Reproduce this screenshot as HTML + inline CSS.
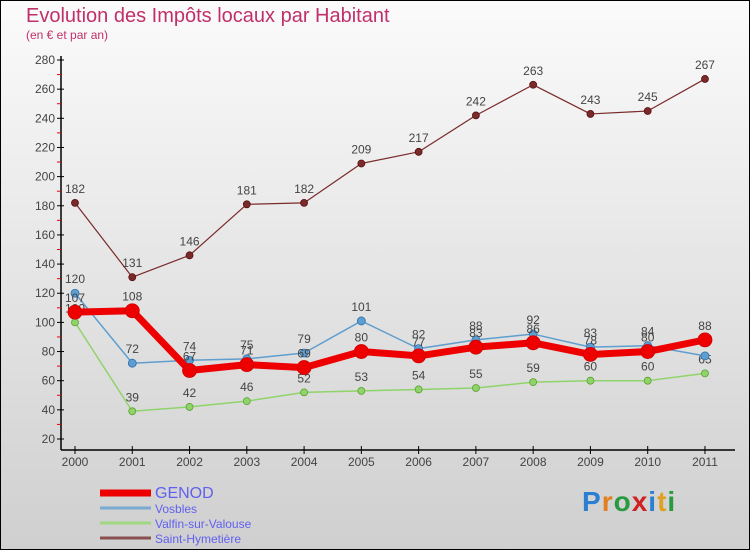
<!DOCTYPE html>
<html><head><meta charset="utf-8"><style>
body{margin:0;width:750px;height:550px;overflow:hidden;font-family:"Liberation Sans",sans-serif}
svg{display:block}
</style></head><body>
<svg id="c" width="750" height="550">
<defs><linearGradient id="bg" x1="0" y1="0" x2="0" y2="1"><stop offset="0" stop-color="#fbfbfb"/><stop offset="1" stop-color="#cfcfcf"/></linearGradient></defs>
<rect x="0.5" y="0.5" width="749" height="549" fill="url(#bg)" stroke="#000"/>
<text x="26" y="22" font-size="20" fill="#c0306a">Evolution des Impôts locaux par Habitant</text>
<text x="26" y="39" font-size="12" fill="#c0306a">(en € et par an)</text>
<g id="axes"></g><g id="series"></g><g id="legend"></g>
</svg>
<script>
const years=["2000","2001","2002","2003","2004","2005","2006","2007","2008","2009","2010","2011"];
const genod=[107,108,67,71,69,80,77,83,86,78,80,88];
const vosbles=[120,72,74,75,79,101,82,88,92,83,84,77];
const valfin=[100,39,42,46,52,53,54,55,59,60,60,65];
const saint=[182,131,146,181,182,209,217,242,263,243,245,267];
const yTicks=[20,40,60,80,100,120,140,160,180,200,220,240,260,280];
const NS="http://www.w3.org/2000/svg";
const X=i=>75+i*57.27;
const Y=v=>439-(v-20)*(379/260);
function mk(t,a,p){const e=document.createElementNS(NS,t);for(const k in a)e.setAttribute(k,a[k]);p.appendChild(e);return e;}
const ax=document.getElementById('axes');
let l=mk('line',{x1:61,y1:56,x2:61,y2:450,stroke:'#000','stroke-width':1.5},ax);


l=mk('line',{x1:61,y1:450,x2:735,y2:450,stroke:'#000','stroke-width':1.5},ax);


yTicks.forEach((v,i)=>{const y=Y(v);
 mk('line',{x1:57,y1:y,x2:64,y2:y,stroke:'#000'},ax);
 if(i<yTicks.length-1)mk('line',{x1:57,y1:Y(v+10),x2:61,y2:Y(v+10),stroke:'#e00'},ax);
 const t=mk('text',{x:55,y:y+4,'font-size':12,fill:'#444','text-anchor':'end'},ax);t.textContent=v;
 
 });
years.forEach((yr,i)=>{const x=X(i);
 mk('line',{x1:x,y1:446,x2:x,y2:454,stroke:'#000'},ax);
 const t=mk('text',{x:x,y:466,'font-size':12,fill:'#444','text-anchor':'middle'},ax);t.textContent=yr;
 
 });
const se=document.getElementById('series');
function series(d,col,w,r,name,dark){const g=mk('g',{},se);
 
 
 mk('polyline',{points:d.map((v,i)=>X(i)+','+Y(v)).join(' '),fill:'none',stroke:col,'stroke-width':w,'stroke-linejoin':'round'},g);
 d.forEach((v,i)=>{const c=mk('circle',{cx:X(i),cy:Y(v),r:r,fill:col,stroke:dark,'stroke-width':0.8},g);
  
  
  const t=mk('text',{x:X(i),y:Y(v)-10,'font-size':12,fill:'#444','text-anchor':'middle'},g);t.textContent=v;
  
  });}
series(saint,'#7a2a2a',1.2,3.5,'saint-hymetiere','#5a1010');
series(valfin,'#8fd46a',1.5,3.5,'valfin','#5ca030');
series(vosbles,'#5f9ecf',1.5,4,'vosbles','#2a70b0');
series(genod,'#ee0000',7,7,'genod','#c00');
const lg=document.getElementById('legend');
const items=[['GENOD','#ee0000',7,16],['Vosbles','#7aaad0',3,12],['Valfin-sur-Valouse','#9fd880',3,12],['Saint-Hymetière','#8a5050',3,12]];
items.forEach((it,i)=>{const y=493+i*15;const g=mk('g',{},lg);
 
 
 mk('line',{x1:100,y1:y,x2:151,y2:y,stroke:it[1],'stroke-width':it[2]},g);
 const t=mk('text',{x:155,y:y+5,'font-size':it[3],fill:'#6060f0'},g);t.textContent=it[0];});
</script>
<div style="position:absolute;left:582px;top:486px;font:bold 28px 'Liberation Sans',sans-serif;letter-spacing:1px"><span style="color:#2a7fd0">P</span><span style="color:#e08020">r</span><span style="color:#2a9a40">o</span><span style="color:#d02020">x</span><span style="color:#2a7fd0">i</span><span style="color:#e0a020">t</span><span style="color:#2a9a40">i</span></div>
</body></html>
